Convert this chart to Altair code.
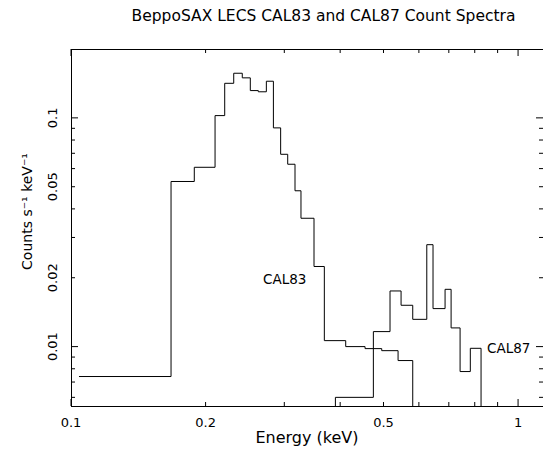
import math
import altair as alt
import pandas as pd

# ---- data (bin edges in keV, count rate in counts/s/keV)
cal83_edges = [0.1042, 0.1674, 0.1887, 0.2100, 0.2207, 0.2312, 0.2416, 0.2518, 0.2624,
               0.2735, 0.2836, 0.2944, 0.3053, 0.3170, 0.3269, 0.3496, 0.3687, 0.4116,
               0.4547, 0.4955, 0.5390, 0.5813]
cal83_counts = [0.0074, 0.0527, 0.0608, 0.1023, 0.1416, 0.1567, 0.1496, 0.1316, 0.1300,
                0.1446, 0.0904, 0.0693, 0.0627, 0.0480, 0.0364, 0.0224, 0.01062, 0.0100,
                0.0098, 0.0096, 0.00869]
cal87_edges = [0.3903, 0.4746, 0.5171, 0.5474, 0.5813, 0.6249, 0.6453, 0.6866, 0.7083,
               0.7418, 0.7820, 0.8264]
cal87_counts = [0.0060, 0.01163, 0.01751, 0.01516, 0.01316, 0.0279, 0.01466, 0.0178,
                0.01207, 0.00778, 0.00983]
label_names = ["CAL83", "CAL87"]
label_energy = [0.2689, 0.852]
label_rate = [0.0196, 0.0098]
x_label_values = [0.1, 0.2, 0.5, 1]
y_label_values = [0.01, 0.02, 0.05, 0.1]
x_tick_values = [0.1, 0.2, 0.3, 0.4, 0.5, 0.6, 0.7, 0.8, 0.9, 1.0]
x_major_ticks = [0.1, 1.0]
y_tick_values = [0.006, 0.007, 0.008, 0.009, 0.01, 0.02, 0.03, 0.04, 0.05, 0.06,
                 0.07, 0.08, 0.09, 0.1]
y_major_ticks = [0.01, 0.1]
x_title = "Energy (keV)"
y_title = "Counts s⁻¹ keV⁻¹"
chart_title = "BeppoSAX LECS CAL83 and CAL87 Count Spectra"
FLOOR = 0.001  # below the plotted range: used for the vertical drops (clipped)

FONT = "DejaVu Sans"
W, H = 472, 357
MAJOR, MINOR = 7, 4
X_MIN, X_MAX = 0.1, 1.137
Y_MIN, Y_MAX = 0.0055, 0.2
# pixels per decade of the two log scales (to express tick lengths along the scales)
PPD_X = W / math.log10(X_MAX / X_MIN)
PPD_Y = H / math.log10(Y_MAX / Y_MIN)


def step_frame(edges, counts, start_from_floor):
    rows = []
    if start_from_floor:
        rows.append((edges[0], FLOOR))
    for e, c in zip(edges[:-1], counts):
        rows.append((e, c))
    rows.append((edges[-1], counts[-1]))
    rows.append((edges[-1], FLOOR))
    df = pd.DataFrame(rows, columns=["energy", "rate"])
    df["order"] = range(len(df))
    return df


df83 = step_frame(cal83_edges, cal83_counts, False)
df87 = step_frame(cal87_edges, cal87_counts, True)
dflab = pd.DataFrame({"energy": label_energy, "rate": label_rate, "name": label_names})

xscale = alt.Scale(type="log", domain=[X_MIN, X_MAX], nice=False)
yscale = alt.Scale(type="log", domain=[Y_MIN, Y_MAX], nice=False)


def X(field):
    return alt.X(field, scale=xscale, axis=None)


def Y(field):
    return alt.Y(field, scale=yscale, axis=None)


line_style = dict(interpolate="step-after", color="black", strokeWidth=1, clip=True)
text_style = dict(font=FONT, color="black", fontWeight="normal")
rule_style = dict(color="black", strokeWidth=1)

line83 = alt.Chart(df83).mark_line(**line_style).encode(
    x=X("energy:Q"), y=Y("rate:Q"), order=alt.Order("order:Q"),
)
line87 = alt.Chart(df87).mark_line(**line_style).encode(
    x=X("energy:Q"), y=Y("rate:Q"), order=alt.Order("order:Q"),
)
labels = alt.Chart(dflab).mark_text(align="left", baseline="middle", fontSize=13.5,
                                    **text_style).encode(
    x=X("energy:Q"), y=Y("rate:Q"), text="name:N",
)

# ---- frame (bottom, top, left edges; the right edge lies outside the picture)
frame_x = pd.DataFrame({"energy": [X_MIN], "hi": [X_MAX]})
frame_y = pd.DataFrame({"rate": [Y_MIN], "hi": [Y_MAX]})
bottom_frame = alt.Chart(frame_x).mark_rule(**rule_style).encode(
    x=X("energy:Q"), x2="hi:Q", y=alt.value(H + 0.5))
top_frame = alt.Chart(frame_x).mark_rule(**rule_style).encode(
    x=X("energy:Q"), x2="hi:Q", y=alt.value(0.5))
left_frame = alt.Chart(frame_y).mark_rule(**rule_style).encode(
    y=Y("rate:Q"), y2="hi:Q", x=alt.value(0.5))


# ---- inward ticks on all four edges, drawn as rules whose ends go through the scales
def x_tick_layer(edge_value, inward):
    lens = [MAJOR if v in x_major_ticks else MINOR for v in x_tick_values]
    ends = [edge_value * 10 ** (inward * n / PPD_Y) for n in lens]
    df = pd.DataFrame({"energy": x_tick_values, "rate": [edge_value] * len(lens), "rate2": ends})
    return alt.Chart(df).mark_rule(**rule_style).encode(
        x=X("energy:Q"), y=Y("rate:Q"), y2="rate2:Q")


def y_tick_layer(edge_value, inward):
    lens = [MAJOR if v in y_major_ticks else MINOR for v in y_tick_values]
    ends = [edge_value * 10 ** (inward * n / PPD_X) for n in lens]
    df = pd.DataFrame({"rate": y_tick_values, "energy": [edge_value] * len(lens), "energy2": ends})
    return alt.Chart(df).mark_rule(**rule_style).encode(
        y=Y("rate:Q"), x=X("energy:Q"), x2="energy2:Q")


tick_layers = [
    x_tick_layer(Y_MIN, +1),   # bottom edge, pointing up
    x_tick_layer(Y_MAX, -1),   # top edge, pointing down
    y_tick_layer(X_MIN, +1),   # left edge, pointing right
    y_tick_layer(X_MAX, -1),   # right edge, pointing left
]

# ---- tick labels placed through the scales
df_xl = pd.DataFrame({"energy": x_label_values, "label": [f"{v:g}" for v in x_label_values]})
df_yl = pd.DataFrame({"rate": y_label_values, "label": [f"{v:g}" for v in y_label_values]})
x_labels = alt.Chart(df_xl).mark_text(align="center", baseline="middle", fontSize=13,
                                      **text_style).encode(
    x=X("energy:Q"), y=alt.value(H + 17), text="label:N")
y_labels = alt.Chart(df_yl).mark_text(align="center", baseline="middle", fontSize=13, angle=270,
                                      **text_style).encode(
    y=Y("rate:Q"), x=alt.value(-18), text="label:N")

# ---- axis titles
x_title_layer = alt.Chart(pd.DataFrame({"t": [x_title]})).mark_text(
    align="center", baseline="middle", fontSize=16, **text_style).encode(
    x=alt.value(W / 2), y=alt.value(H + 31.5), text="t:N")
y_title_layer = alt.Chart(pd.DataFrame({"t": [y_title]})).mark_text(
    align="center", baseline="middle", fontSize=14, angle=270, **text_style).encode(
    x=alt.value(-43), y=alt.value(162.5), text="t:N")

chart = alt.layer(
    line83, line87, labels, bottom_frame, top_frame, left_frame, *tick_layers,
    x_labels, y_labels, x_title_layer, y_title_layer,
).properties(
    width=W, height=H,
    title=alt.TitleParams(text=chart_title, font=FONT, fontSize=15.5, fontWeight="normal",
                          color="black", anchor="middle", frame="group", dx=16.5, offset=24.5),
    autosize=alt.AutoSizeParams(type="none"),
    padding={"left": 63, "top": 41, "right": 1, "bottom": 40},
    background="white",
).configure_view(strokeWidth=0)

chart.save("out.html", embed_options={"renderer": "svg", "actions": False})
